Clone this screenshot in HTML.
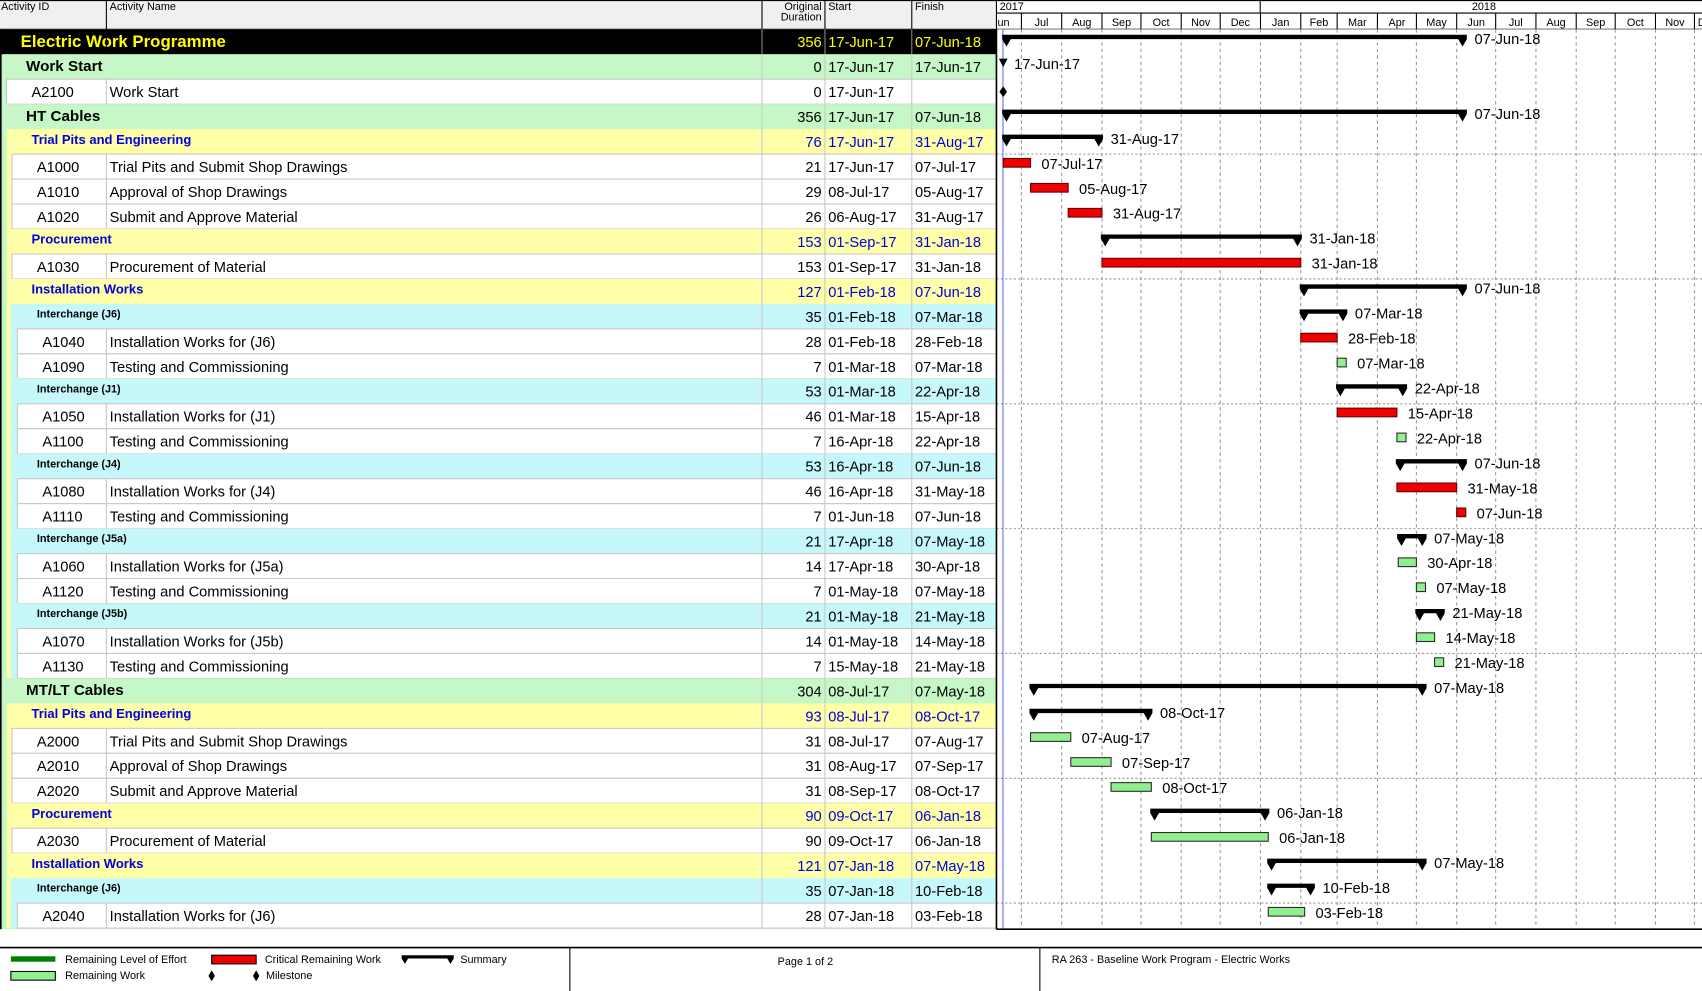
<!DOCTYPE html>
<html><head><meta charset="utf-8">
<style>
html,body{margin:0;padding:0;background:#fff;overflow:hidden;width:1702px;height:991px}
#wrap{position:absolute;left:0;top:0;width:1568px;height:913px;transform:scale(1.08546);transform-origin:0 0;font-family:"Liberation Sans",sans-serif}
</style></head><body>
<div id="wrap">
<svg id="svg" width="1568" height="913" style="position:absolute;left:0;top:0"></svg>
</div>
<script>
const rowTypes=["top","l1","act","l1","l2","act","act","act","l2","act","l2","l3","act","act","l3","act","act","l3","act","act","l3","act","act","l3","act","act","l1","l2","act","act","act","l2","act","l2","l3","act"];
const rowIds=["","","A2100","","","A1000","A1010","A1020","","A1030","","","A1040","A1090","","A1050","A1100","","A1080","A1110","","A1060","A1120","","A1070","A1130","","","A2000","A2010","A2020","","A2030","","","A2040"];
const rowNames=["Electric Work Programme","Work Start","Work Start","HT Cables","Trial Pits and Engineering","Trial Pits and Submit Shop Drawings","Approval of Shop Drawings","Submit and Approve Material","Procurement","Procurement of Material","Installation Works","Interchange (J6)","Installation Works for (J6)","Testing and Commissioning","Interchange (J1)","Installation Works for (J1)","Testing and Commissioning","Interchange (J4)","Installation Works for (J4)","Testing and Commissioning","Interchange (J5a)","Installation Works for (J5a)","Testing and Commissioning","Interchange (J5b)","Installation Works for (J5b)","Testing and Commissioning","MT/LT Cables","Trial Pits and Engineering","Trial Pits and Submit Shop Drawings","Approval of Shop Drawings","Submit and Approve Material","Procurement","Procurement of Material","Installation Works","Interchange (J6)","Installation Works for (J6)"];
const durations=[356,0,0,356,76,21,29,26,153,153,127,35,28,7,53,46,7,53,46,7,21,14,7,21,14,7,304,93,31,31,31,90,90,121,35,28];
const starts=["17-Jun-17","17-Jun-17","17-Jun-17","17-Jun-17","17-Jun-17","17-Jun-17","08-Jul-17","06-Aug-17","01-Sep-17","01-Sep-17","01-Feb-18","01-Feb-18","01-Feb-18","01-Mar-18","01-Mar-18","01-Mar-18","16-Apr-18","16-Apr-18","16-Apr-18","01-Jun-18","17-Apr-18","17-Apr-18","01-May-18","01-May-18","01-May-18","15-May-18","08-Jul-17","08-Jul-17","08-Jul-17","08-Aug-17","08-Sep-17","09-Oct-17","09-Oct-17","07-Jan-18","07-Jan-18","07-Jan-18"];
const finishes=["07-Jun-18","17-Jun-17","","07-Jun-18","31-Aug-17","07-Jul-17","05-Aug-17","31-Aug-17","31-Jan-18","31-Jan-18","07-Jun-18","07-Mar-18","28-Feb-18","07-Mar-18","22-Apr-18","15-Apr-18","22-Apr-18","07-Jun-18","31-May-18","07-Jun-18","07-May-18","30-Apr-18","07-May-18","21-May-18","14-May-18","21-May-18","07-May-18","08-Oct-17","07-Aug-17","07-Sep-17","08-Oct-17","06-Jan-18","06-Jan-18","07-May-18","10-Feb-18","03-Feb-18"];
const critical=["A1000","A1010","A1020","A1030","A1040","A1050","A1080","A1110"];
const monthLabels=["un","Jul","Aug","Sep","Oct","Nov","Dec","Jan","Feb","Mar","Apr","May","Jun","Jul","Aug","Sep","Oct","Nov","De"];

const NS="http://www.w3.org/2000/svg";
const svg=document.getElementById("svg");
function el(tag,attrs,parent,text){const e=document.createElementNS(NS,tag);for(const k in attrs)e.setAttribute(k,attrs[k]);if(text!==undefined)e.textContent=text;(parent||svg).appendChild(e);return e;}
const MON={Jan:0,Feb:1,Mar:2,Apr:3,May:4,Jun:5,Jul:6,Aug:7,Sep:8,Oct:9,Nov:10,Dec:11};
function parseD(s){const p=s.split("-");return Date.UTC(2000+ +p[2],MON[p[1]],+p[0]);}
const T0=Date.UTC(2017,6,1), X0=941, PXD=1.197;
function xOf(s,end){return X0+((parseD(s)-T0)/86400000+(end?1:0))*PXD;}
const ROW_TOP=27,RH=23,GX=918,GR=1568;

el("rect",{x:0,y:0,width:918,height:27,fill:"#f0f0f0"});
el("rect",{x:918,y:0,width:650,height:27,fill:"#fff"});
el("line",{x1:0,y1:0.5,x2:1568,y2:0.5,stroke:"#000"});
el("line",{x1:0,y1:27,x2:1568,y2:27,stroke:"#000"});
[98,702,760,840,918].forEach(x=>{el("line",{x1:x,y1:0,x2:x,y2:27,stroke:"#000"});});
let h;
h=el("text",{x:1,y:9,"font-size":10},svg,"Activity ID");
h=el("text",{x:101,y:9,"font-size":10},svg,"Activity Name");
h=el("text",{x:757,y:9,"font-size":10,"text-anchor":"end"},svg,"Original");
el("text",{x:757,y:19,"font-size":10,"text-anchor":"end"},svg,"Duration");
h=el("text",{x:763,y:9,"font-size":10},svg,"Start");
h=el("text",{x:843,y:9,"font-size":10},svg,"Finish");
el("line",{x1:918,y1:12,x2:1568,y2:12,stroke:"#000"});
el("line",{x1:1161,y1:0,x2:1161,y2:12,stroke:"#000"});
h=el("text",{x:921,y:9,"font-size":10},svg,"2017");
h=el("text",{x:1356,y:9,"font-size":10},svg,"2018");
const monthXs=[];
for(let i=0;i<monthLabels.length;i++){
  const d=Date.UTC(2017,5+i,1);
  let x=X0+(d-T0)/86400000*PXD; if(i===0)x=918;
  monthXs.push(x);
}
for(let i=0;i<monthLabels.length;i++){
  const x=monthXs[i], nx=i+1<monthXs.length?monthXs[i+1]:GR;
  if(i>0)el("line",{x1:x,y1:12,x2:x,y2:27,stroke:"#000"});
  const t=el("text",{x:i===0?919:(i===monthLabels.length-1?x+3:(x+Math.min(nx,GR))/2),y:24,"font-size":10,"text-anchor":(i===0||i===monthLabels.length-1)?"start":"middle"},svg,monthLabels[i]);
  
  
}

const bgFor={top:"#000",l1:"#c6f7c6",l2:"#ffffa8",l3:"#c6f7fb",act:"#fff"};
el("rect",{x:0,y:27,width:918,height:829,fill:"#c6f7c6"});
const N=rowTypes.length;
function ctxOf(i){for(let j=i-1;j>=0;j--){if(rowTypes[j]!=="act")return rowTypes[j];}return "l1";}
function indentOf(i){
  const t=rowTypes[i];
  if(t==="top")return 0;if(t==="l1")return 3;if(t==="l2")return 6;if(t==="l3")return 10;
  const ctx=ctxOf(i);
  return ctx==="l1"?6:ctx==="l2"?11:16;
}
for(let i=0;i<N;i++){
  const y=ROW_TOP+i*RH,t=rowTypes[i];
  const ind=indentOf(i);
  if(t==="act"){
    const ctx=ctxOf(i);
    if(ctx!=="l1"){el("rect",{x:6,y:y,width:912,height:RH,fill:"#ffffa8"});}
    if(ctx==="l3"){el("rect",{x:10,y:y,width:908,height:RH,fill:"#c6f7fb"});}
  }
  if(t==="l3"){el("rect",{x:6,y:y,width:912,height:RH,fill:"#ffffa8"});}
  const r=el("rect",{x:ind,y:y,width:918-ind,height:RH,fill:bgFor[t],stroke:t==="act"?"#c8c8c8":"none"});
  
  
  const cy=y+RH/2;
  const blue="#0000e0";
  const txtCol=t==="top"?"#ffff00":t==="l2"?blue:"#000";
  if(t==="act"){
    el("line",{x1:98,y1:y,x2:98,y2:y+RH,stroke:"#c8c8c8"});
    const a=el("text",{x:ind+23,y:cy+5,"font-size":13.5},svg,rowIds[i]);
    const b=el("text",{x:101,y:cy+5,"font-size":13.5},svg,rowNames[i]);
  } else {
    const fs=t==="top"?15.5:t==="l1"?14:t==="l2"?12:10;
    const nx=t==="top"?19:t==="l1"?24:t==="l2"?29:34;
    const ny=t==="top"?cy+5:t==="l1"?cy+4:t==="l2"?cy+2:cy+1;
    const b=el("text",{x:nx,y:ny,"font-size":fs,"font-weight":"bold",fill:txtCol},svg,rowNames[i]);
    
    
  }
  [702,760,840].forEach(x=>el("line",{x1:x,y1:y,x2:x,y2:y+RH,stroke:t==="top"?"#888":"#c8c8c8"}));
  if(t==="top"){el("line",{x1:98,y1:y,x2:98,y2:y+RH,stroke:"#000"});}
  const d=el("text",{x:757,y:cy+5,"font-size":13.5,"text-anchor":"end",fill:txtCol},svg,String(durations[i]));
  const s=el("text",{x:763,y:cy+5,"font-size":13.5,fill:txtCol},svg,starts[i]);
  const f=el("text",{x:843,y:cy+5,"font-size":13.5,fill:txtCol},svg,finishes[i]);
}
el("rect",{x:0,y:27,width:1.5,height:829,fill:"#000"});

el("rect",{x:GX,y:27,width:GR-GX,height:829,fill:"#fff"});
for(let i=1;i<monthXs.length;i++){el("line",{x1:monthXs[i],y1:27,x2:monthXs[i],y2:856,stroke:"#999","stroke-dasharray":"3,3"});}
for(let r=5;r<N;r+=5){const y=ROW_TOP+r*RH;el("line",{x1:GX,y1:y,x2:GR,y2:y,stroke:"#999","stroke-dasharray":"2,2"});}
el("line",{x1:924,y1:27,x2:924,y2:856,stroke:"#6a6aff"});
el("line",{x1:918,y1:27,x2:918,y2:856,stroke:"#000","stroke-width":1.5});
el("line",{x1:918,y1:856,x2:1568,y2:856,stroke:"#000","stroke-width":1.5});

for(let i=0;i<N;i++){
  const t=rowTypes[i],y=ROW_TOP+i*RH,cy=y+RH/2;
  const x1=xOf(starts[i],false);
  let bar;
  if(i===1){
    bar=el("path",{d:`M${x1-4},${y+4} h8 l-4,8 z`,fill:"#000"});
    
    
    const lb=el("text",{x:x1+10,y:cy+2,"font-size":13.5},svg,finishes[i]);
    
    
    continue;
  }
  if(rowIds[i]==="A2100"){
    bar=el("path",{d:`M${x1},${cy-5} l3.5,5 l-3.5,5 l-3.5,-5 z`,fill:"#000"});
    
    
    continue;
  }
  const x2=xOf(finishes[i],true);
  if(t!=="act"){
    bar=el("path",{d:`M${x1-1},${y+5} H${x2+1} v4 l-4,7 l-4,-7 H${x1+7} l-4,7 l-4,-7 z`,fill:"#000"});
    
    
    const lb=el("text",{x:x2+8,y:cy+2,"font-size":13.5},svg,finishes[i]);
    
    
  } else {
    const crit=critical.includes(rowIds[i]);
    const w=Math.max(x2-x1,7);
    bar=el("rect",{x:x1,y:y+4,width:w,height:8,fill:crit?"#f00000":"#90f090",stroke:crit?"#600":"#2a2a2a","stroke-width":1});
    
    
    const lb=el("text",{x:x1+w+10,y:cy+2,"font-size":13.5},svg,finishes[i]);
    
    
  }
}

el("line",{x1:0,y1:873,x2:1568,y2:873,stroke:"#000","stroke-width":1.5});
el("line",{x1:525,y1:873,x2:525,y2:913,stroke:"#000"});
el("line",{x1:958,y1:873,x2:958,y2:913,stroke:"#000"});
let lg;
lg=el("rect",{x:10,y:881,width:41,height:5,fill:"#008000"});
el("text",{x:60,y:887,"font-size":10},svg,"Remaining Level of Effort");
lg=el("rect",{x:195,y:880,width:41,height:8,fill:"#f00000",stroke:"#000"});
el("text",{x:244,y:887,"font-size":10},svg,"Critical Remaining Work");
lg=el("path",{d:"M370,880 h48 v3 l-3,5 l-3,-5 h-36 l-3,5 l-3,-5 z",fill:"#000"});
el("text",{x:424,y:887,"font-size":10},svg,"Summary");
lg=el("rect",{x:10,y:895,width:41,height:8,fill:"#90f090",stroke:"#000"});
el("text",{x:60,y:902,"font-size":10},svg,"Remaining Work");
lg=el("path",{d:"M195,894 l3,5 l-3,5 l-3,-5 z M236,894 l3,5 l-3,5 l-3,-5 z",fill:"#000"});
el("text",{x:245,y:902,"font-size":10},svg,"Milestone");
lg=el("text",{x:742,y:889,"font-size":10,"text-anchor":"middle"},svg,"Page 1 of 2");
lg=el("text",{x:969,y:887,"font-size":10},svg,"RA 263 - Baseline Work Program - Electric Works");
</script>
</body></html>
